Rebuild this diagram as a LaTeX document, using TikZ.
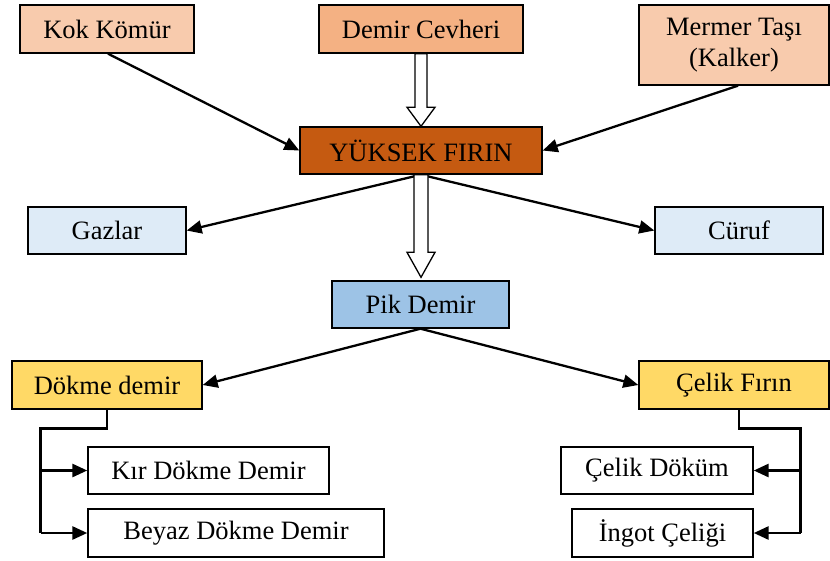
\documentclass[tikz,border=0pt]{standalone}
\usepackage{fontspec}
\setmainfont{Liberation Serif}
\usetikzlibrary{arrows.meta,calc}
\definecolor{peachL}{HTML}{F8CBAD}
\definecolor{peachD}{HTML}{F4B183}
\definecolor{rust}{HTML}{C55A11}
\definecolor{paleblue}{HTML}{DEEBF7}
\definecolor{midblue}{HTML}{9DC3E6}
\definecolor{gold}{HTML}{FFD966}
\tikzset{
  box/.style={draw=black, line width=1.4pt, rectangle, inner sep=0pt, align=center,
    font=\rmfamily\fontsize{26.5}{31}\selectfont},
  conn/.style={draw=black, line width=2.3pt, -{Triangle[length=15pt,width=13pt]}},
  elbowline/.style={draw=black, line width=2.8pt, line join=miter},
  elbowarrow/.style={draw=black, line width=2.8pt, -{Triangle[length=15pt,width=13pt]}},
  hollow/.style={draw=black, fill=white, line width=1.3pt, line join=miter},
}
\begin{document}
\begin{tikzpicture}[x=1pt,y=-1pt]
\useasboundingbox (0,0) rectangle (830,560);
% nodes
\node[box, fill=peachL, minimum width=174pt, minimum height=48pt] (kok) at (107,29) {Kok Kömür};
\node[box, fill=peachD, minimum width=204pt, minimum height=48pt] (demir) at (421,29) {Demir Cevheri};
\node[box, fill=peachL, minimum width=190pt, minimum height=80pt] (mermer) at (734,45) {Mermer Taşı\\(Kalker)};
\node[box, fill=rust, minimum width=242pt, minimum height=47pt] (firin) at (421,150.5) {YÜKSEK FIRIN};
\node[box, fill=paleblue, minimum width=158pt, minimum height=47pt] (gaz) at (107,230.5) {Gazlar};
\node[box, fill=paleblue, minimum width=168pt, minimum height=47pt] (curuf) at (739,230.5) {Cüruf};
\node[box, fill=midblue, minimum width=177pt, minimum height=47pt] (pik) at (420.5,304.5) {Pik Demir};
\node[box, fill=gold, minimum width=190pt, minimum height=48pt] (dokme) at (107,385) {Dökme demir};
\node[box, fill=gold, minimum width=190pt, minimum height=48pt] (celik) at (734,385) {Çelik Fırın};
\node[box, fill=white, minimum width=241pt, minimum height=47pt] (kir) at (208.5,470.5) {Kır Dökme Demir};
\node[box, fill=white, minimum width=296pt, minimum height=48pt] (beyaz) at (236,533) {Beyaz Dökme Demir};
\node[box, fill=white, minimum width=192pt, minimum height=47pt] (cdokum) at (657,470.5) {Çelik Döküm};
\node[box, fill=white, minimum width=181pt, minimum height=48pt] (ingot) at (662.5,533) {İngot Çeliği};
% straight arrows
\draw[conn] ([xshift=1pt]kok.south) -- (firin.west);
\draw[conn] ([xshift=4pt]mermer.south) -- (firin.east);
\draw[conn] (firin.south) -- (gaz.east);
\draw[conn] (firin.south) -- (curuf.west);
\draw[conn] (pik.south) -- (dokme.east);
\draw[conn] (pik.south) -- (celik.west);
% hollow arrows
\draw[hollow] ($(demir.south)+(-6,0)$) -- ($(firin.north)+(-6,-19)$) -- ($(firin.north)+(-14,-19)$)
  -- (firin.north) -- ($(firin.north)+(14,-19)$) -- ($(firin.north)+(6,-19)$) -- ($(demir.south)+(6,0)$) -- cycle;
\coordinate (piktip) at ($(pik.north)+(0.5,-3)$);
\draw[hollow] ($(firin.south)+(-7,0)$) -- ($(piktip)+(-7,-25)$) -- ($(piktip)+(-14,-25)$)
  -- (piktip) -- ($(piktip)+(14,-25)$) -- ($(piktip)+(7,-25)$) -- ($(firin.south)+(7,0)$) -- cycle;
% elbow connectors left
\coordinate (dl) at (40.5,428.5);
\draw[elbowline] (dokme.south) -- (dokme.south |- dl) -- (dl) -- (dl |- beyaz.west);
\draw[elbowarrow] (dl |- beyaz.west) -- (beyaz.west);
\draw[elbowarrow] (dl |- kir.west) -- (kir.west);
% elbow connectors right
\coordinate (cr) at (800.5,428.5);
\draw[elbowline] ([xshift=5pt]celik.south) -- ([xshift=5pt]celik.south |- cr) -- (cr) -- (cr |- ingot.east);
\draw[elbowarrow] (cr |- ingot.east) -- (ingot.east);
\draw[elbowarrow] (cr |- cdokum.east) -- (cdokum.east);
\end{tikzpicture}
\end{document}
